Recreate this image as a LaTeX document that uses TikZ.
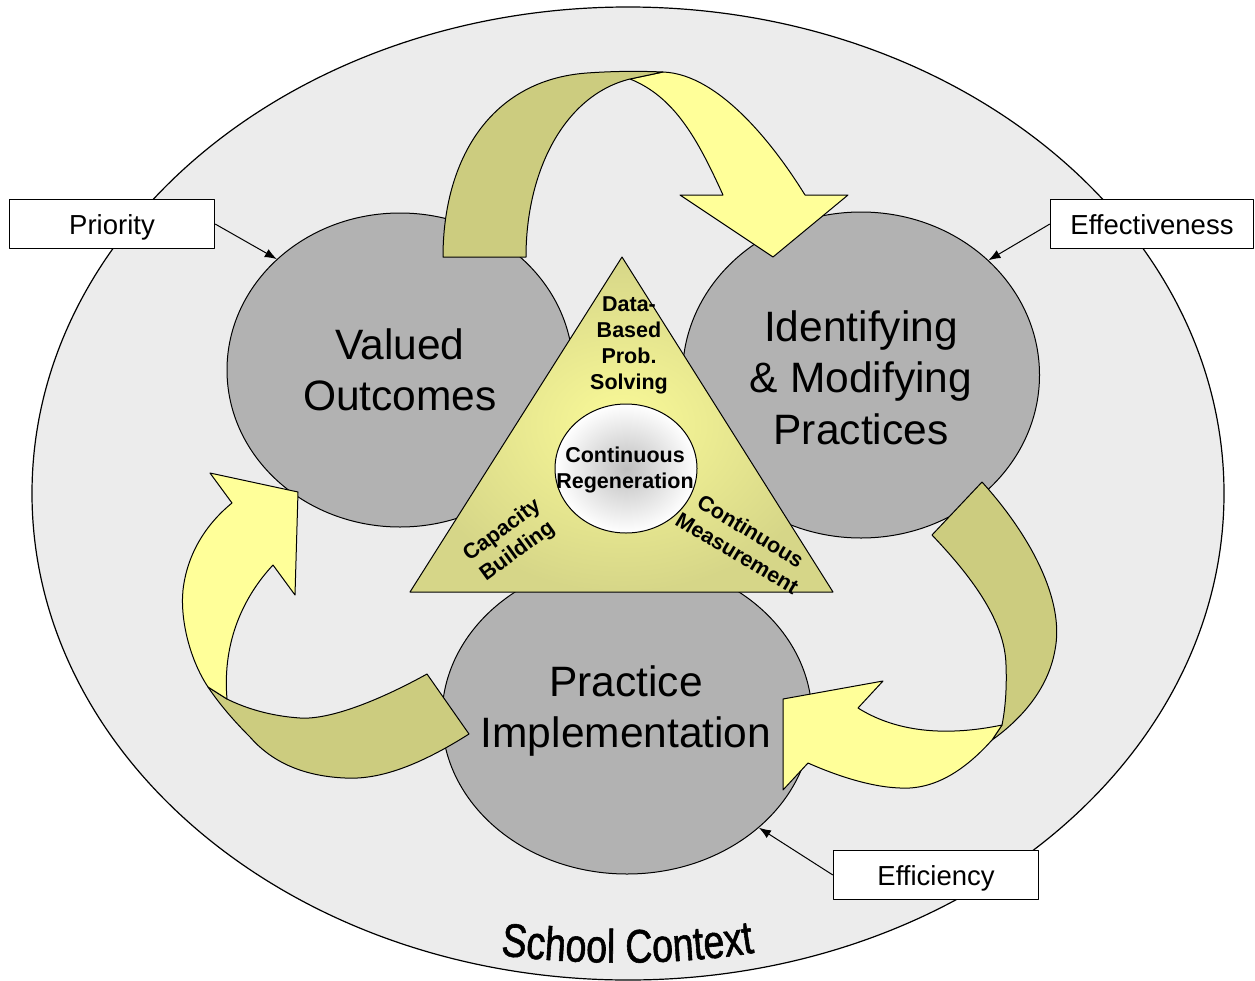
\documentclass[tikz,border=0pt]{standalone}
\usepackage{fontspec}
\setmainfont{Liberation Sans}
\newfontfamily\ctxfont[FakeStretch=0.8,FakeBold=1.2]{Liberation Sans}
\usetikzlibrary{shapes.geometric,arrows.meta,decorations.text}
\definecolor{ctxgray}{HTML}{ECECEC}
\definecolor{blobgray}{HTML}{B2B2B2}
\definecolor{lightyel}{HTML}{FFFF99}
\definecolor{olivebk}{HTML}{CCCC7F}
\definecolor{triin}{HTML}{FAFA98}
\definecolor{triout}{HTML}{D6D688}
\begin{document}
\begin{tikzpicture}[x=1pt,y=-1pt,line join=round,
  blobnode/.style={ellipse,draw=black,line width=1pt,fill=blobgray,inner sep=0pt},
  blobtext/.style={align=center,inner sep=0pt,font=\fontsize{42.5}{51.5}\selectfont},
  labelbox/.style={draw=black,line width=1.3pt,fill=white,minimum width=205pt,minimum height=49pt,inner sep=0pt,text height=20pt,text depth=0pt,font=\fontsize{27.5}{33}\selectfont},
  pointer/.style={line width=1pt,-{Latex[length=12pt,width=9pt]}},
  frontband/.style={draw=black,line width=1pt,fill=lightyel},
  backband/.style={draw=black,line width=1pt,fill=olivebk},
  tritext/.style={font=\bfseries\fontsize{21.5}{26}\selectfont,align=center,inner sep=0pt}]
\useasboundingbox (0,0) rectangle (1255,980);
\fill[white] (0,0) rectangle (1255,980);
% school context
\draw[fill=ctxgray,line width=1.2pt] (628,493.5) ellipse [x radius=596pt,y radius=486.5pt];
% three main ellipses
\node[blobnode,minimum width=346pt,minimum height=314pt] (vo) at (400,370) {};
\node[blobnode,minimum width=357pt,minimum height=326pt] (imp) at (861,375) {};
\node[blobnode,minimum width=370pt,minimum height=314pt] (pi) at (627,717) {};
\node[blobtext] (votext) at (400,370) {Valued\\Outcomes};
\node[blobtext] (imptext) at (861,377.5) {Identifying\\\& Modifying\\Practices};
\node[blobtext] (pitext) at (626,711) {Practice\\Implementation};
% top arrow
\draw[frontband] (630,79) -- (663,72) .. controls (720,74) and (776,148) .. (805,195)
  -- (848,195) -- (773,257) -- (680,195) -- (723,195)
  .. controls (698,140) and (675,97) .. (630,79) -- cycle;
\draw[backband] (443,257) .. controls (443,160) and (490,80) .. (587,73)
  .. controls (615,71) and (640,71) .. (663,72) -- (630,79)
  .. controls (565,95) and (526,170) .. (526,257) -- cycle;
% left arrow
\draw[backband] (427,674) .. controls (380,700) and (330,720) .. (300,718)
  .. controls (270,716) and (245,708) .. (227,699) -- (208,687)
  .. controls (220,705) and (235,722) .. (250,737)
  .. controls (270,760) and (300,776) .. (345,778)
  .. controls (380,780) and (420,765) .. (469,734) -- cycle;
\draw[frontband] (227,699) -- (208,687)
  .. controls (190,660) and (180,620) .. (183,590)
  .. controls (187,555) and (205,525) .. (232,503)
  -- (210,473) -- (298,492) -- (295,595) -- (273,565)
  .. controls (245,595) and (222,640) .. (227,699) -- cycle;
% right arrow
\draw[backband] (982,482) .. controls (1030,535) and (1065,600) .. (1055,650)
  .. controls (1048,690) and (1020,720) .. (992,740) -- (1002,725)
  .. controls (1005,710) and (1007,690) .. (1006,665)
  .. controls (1005,620) and (970,575) .. (932,535) -- cycle;
\draw[frontband] (1002,725) -- (992,740)
  .. controls (965,770) and (935,790) .. (900,788)
  .. controls (870,787) and (835,775) .. (808,763)
  -- (783,790) -- (783,699) -- (883,681) -- (858,708)
  .. controls (885,725) and (930,740) .. (1002,725) -- cycle;
% triangle
\shade[inner color=triin,outer color=triout,draw=black,line width=1pt]
  (622,257) -- (410,592) -- (833,592) -- cycle;
\shade[inner color=black!25,outer color=white,draw=black,line width=1pt]
  (626,468.5) ellipse [x radius=71pt,y radius=64.5pt];
\node[tritext] (dbps) at (629,345) {Data-\\Based\\Prob.\\Solving};
\node[tritext] (creg) at (625,470) {Continuous\\Regeneration};
\node[tritext,rotate=36] (capb) at (510,541) {Capacity\\Building};
\node[tritext,rotate=-31] (cmeas) at (744,542) {Continuous\\Measurement};
% labels
\node[labelbox] (prio) at (112,224) {Priority};
\node[labelbox,minimum width=203pt] (effect) at (1152,224) {Effectiveness};
\node[labelbox] (effic) at (936,875) {Efficiency};
\draw[pointer] (prio.east) -- (vo.138);
\draw[pointer] (effect.west) -- (imp.42);
\draw[pointer] (effic.west) -- (pi.-40);
% school context title, slightly warped along a curve
\path[decorate,decoration={text along path,text align=center,
  text={|\ctxfont\fontsize{47}{56}\selectfont|School Context}}]
  (490,954) .. controls (580,966) and (680,966) .. (765,951);
\end{tikzpicture}
\end{document}
